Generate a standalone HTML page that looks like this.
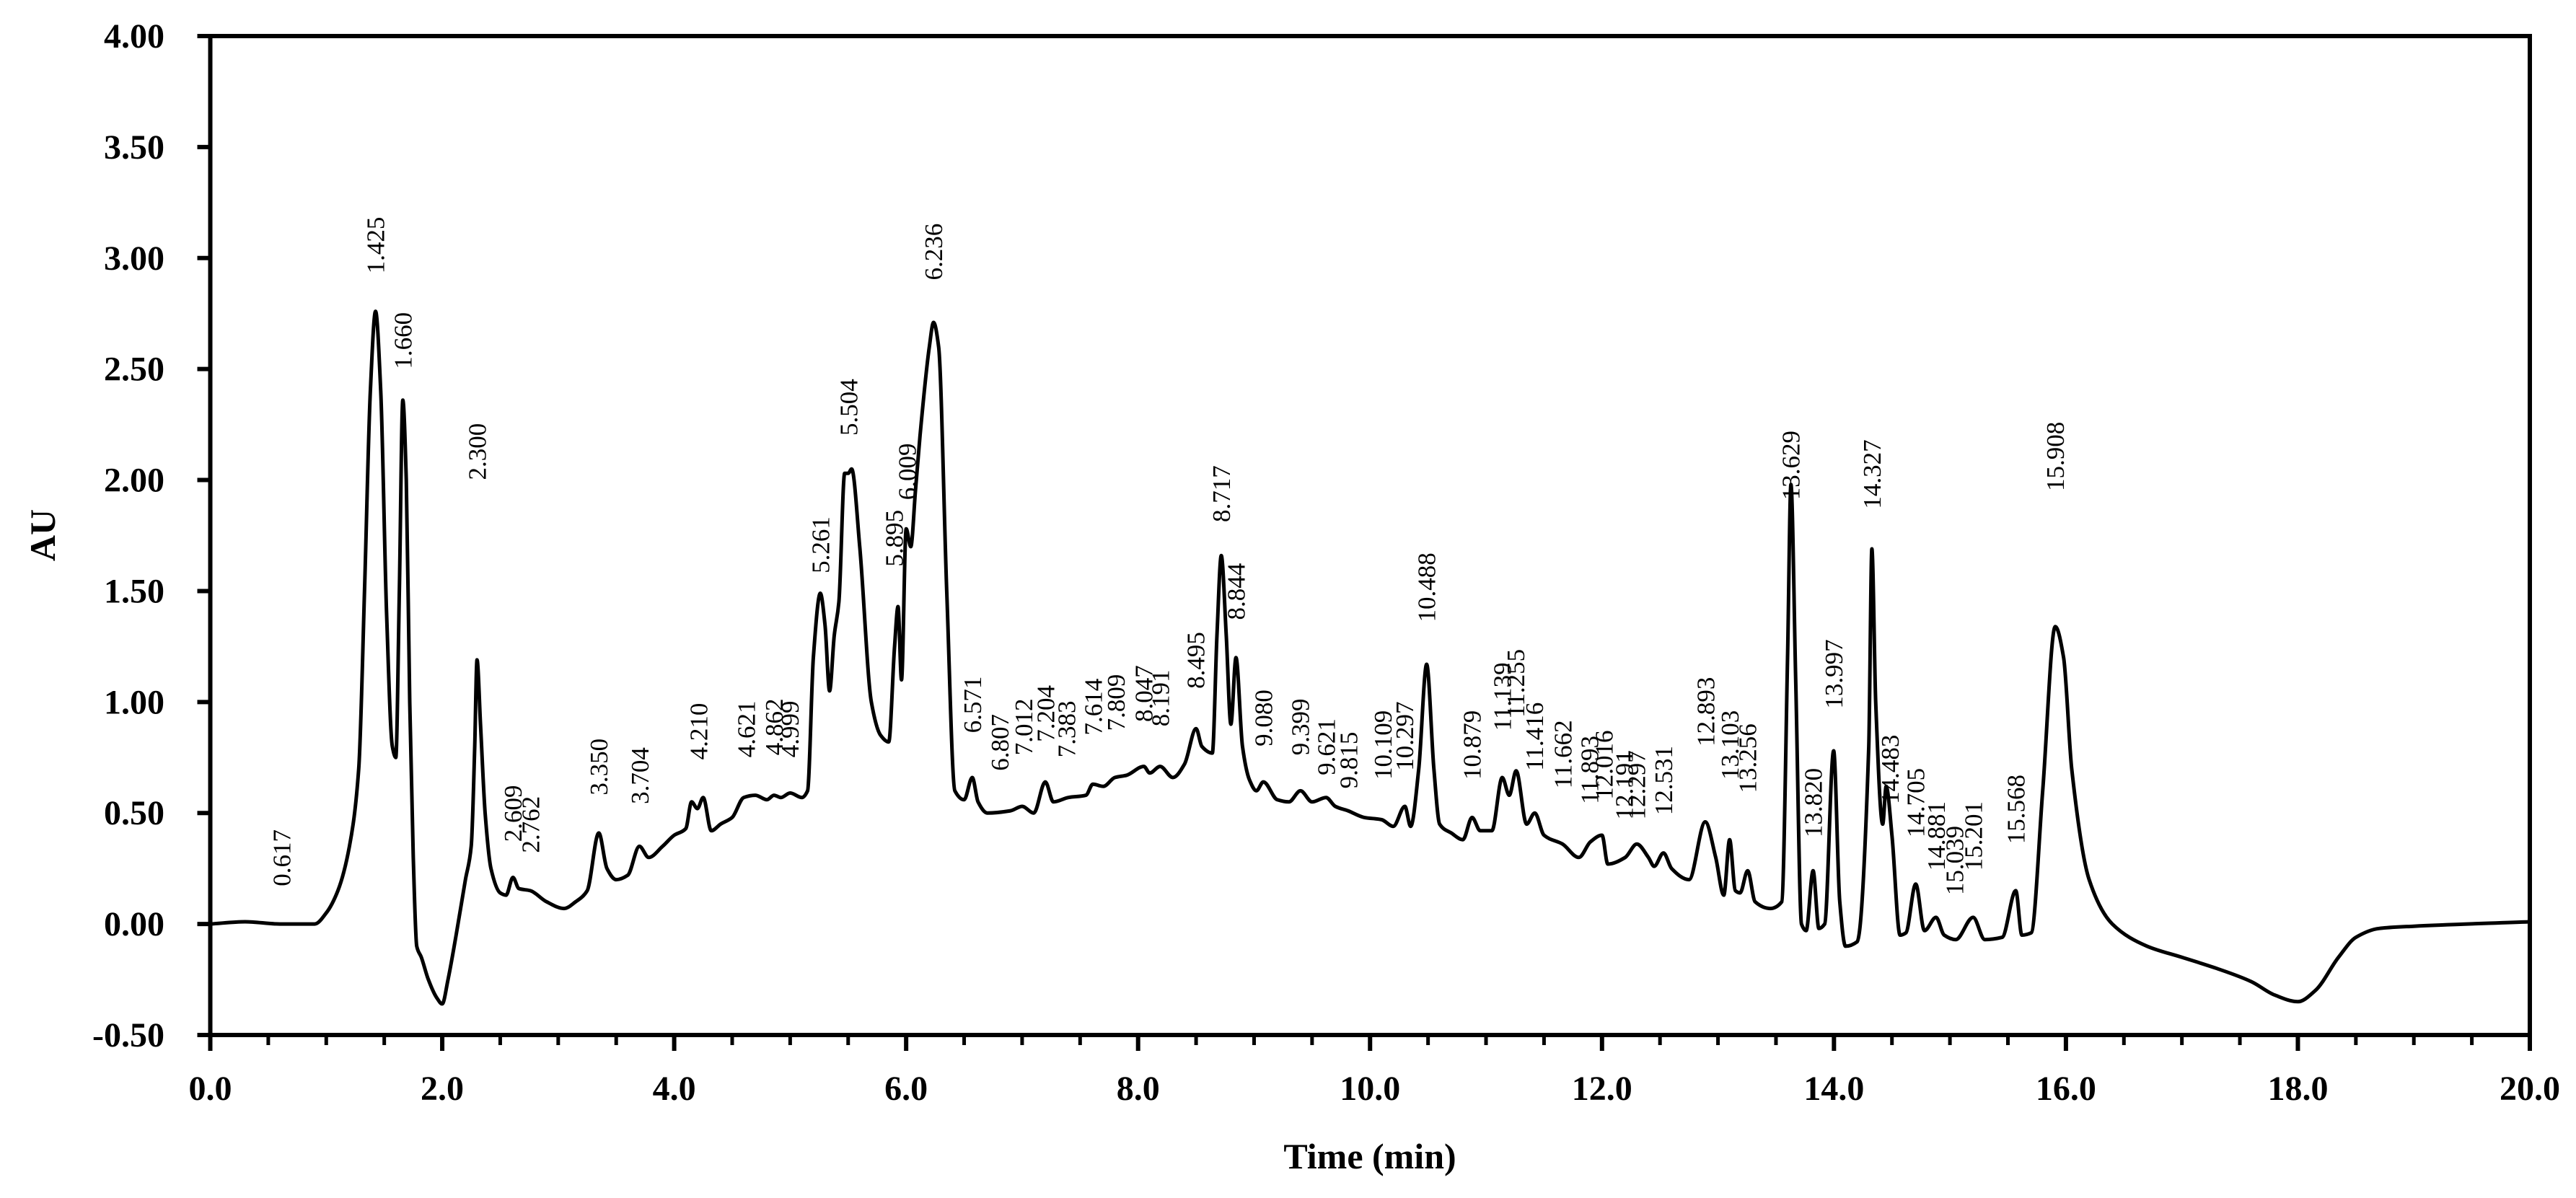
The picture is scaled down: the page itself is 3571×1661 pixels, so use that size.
<!DOCTYPE html>
<html><head><meta charset="utf-8"><style>
html,body{margin:0;padding:0;background:#fff;}
svg{display:block;}
</style></head><body>
<svg id="chart" width="3571" height="1661" viewBox="0 0 3571 1661" xmlns="http://www.w3.org/2000/svg">
<g id="axes"></g>
<g id="trace"></g>
<g id="labels"></g>
<text x="1899" y="1620" text-anchor="middle" font-family="Liberation Serif, serif" font-weight="bold" font-size="50">Time (min)</text>
<text transform="translate(76,742) rotate(-90)" text-anchor="middle" font-family="Liberation Serif, serif" font-weight="bold" font-size="50">AU</text>
</svg>
<script>
const xTickLabels = ["0.0","2.0","4.0","6.0","8.0","10.0","12.0","14.0","16.0","18.0","20.0"];
const yTickLabels = ["-0.50","0.00","0.50","1.00","1.50","2.00","2.50","3.00","3.50","4.00"];
const traceTimes = [0,0.3,0.6,0.9,1.0,1.1,1.2,1.28,1.33,1.38,1.425,1.47,1.52,1.57,1.6,1.63,1.66,1.69,1.72,1.75,1.78,1.82,1.88,1.95,2.0,2.05,2.12,2.2,2.25,2.28,2.3,2.33,2.37,2.42,2.5,2.55,2.61,2.66,2.76,2.9,3.05,3.15,3.25,3.35,3.42,3.5,3.6,3.7,3.78,3.9,4.0,4.1,4.15,4.2,4.25,4.32,4.4,4.5,4.6,4.7,4.8,4.86,4.92,5.0,5.1,5.15,5.2,5.26,5.3,5.34,5.38,5.42,5.47,5.5,5.53,5.6,5.7,5.78,5.85,5.9,5.93,5.96,6.0,6.04,6.08,6.12,6.2,6.236,6.28,6.35,6.42,6.5,6.57,6.62,6.7,6.9,7.0,7.1,7.2,7.27,7.4,7.55,7.61,7.7,7.8,7.9,8.05,8.1,8.19,8.3,8.4,8.5,8.55,8.64,8.68,8.717,8.76,8.8,8.844,8.9,8.96,9.02,9.08,9.2,9.3,9.4,9.5,9.62,9.7,9.81,9.95,10.1,10.2,10.3,10.35,10.42,10.488,10.55,10.6,10.7,10.8,10.88,10.95,11.05,11.14,11.2,11.26,11.35,11.42,11.5,11.66,11.8,11.9,12.0,12.05,12.2,12.3,12.4,12.45,12.53,12.6,12.75,12.89,12.98,13.05,13.1,13.15,13.19,13.256,13.32,13.45,13.55,13.6,13.629,13.67,13.72,13.76,13.82,13.87,13.92,13.997,14.05,14.1,14.2,14.3,14.327,14.36,14.42,14.45,14.5,14.57,14.62,14.705,14.78,14.88,14.95,15.05,15.2,15.3,15.45,15.568,15.62,15.7,15.8,15.908,15.98,16.05,16.2,16.4,16.7,17.0,17.3,17.6,17.8,18.0,18.15,18.35,18.5,18.7,19.0,20.0];
const traceValues = [0,0.01,0,0,0.05,0.15,0.35,0.7,1.5,2.4,2.76,2.4,1.4,0.8,0.75,1.5,2.36,2.0,1.0,0.3,-0.1,-0.15,-0.25,-0.33,-0.36,-0.25,-0.05,0.2,0.35,0.8,1.19,0.9,0.5,0.25,0.14,0.13,0.21,0.16,0.15,0.1,0.07,0.1,0.15,0.41,0.25,0.2,0.22,0.35,0.3,0.35,0.4,0.43,0.55,0.52,0.57,0.42,0.45,0.48,0.57,0.58,0.56,0.58,0.57,0.59,0.57,0.6,1.2,1.49,1.35,1.05,1.3,1.45,2.03,2.03,2.05,1.7,1.0,0.85,0.82,1.25,1.43,1.1,1.78,1.7,1.95,2.2,2.6,2.71,2.6,1.5,0.6,0.56,0.66,0.55,0.5,0.51,0.53,0.5,0.64,0.55,0.57,0.58,0.63,0.62,0.66,0.67,0.71,0.68,0.71,0.66,0.72,0.88,0.8,0.77,1.3,1.66,1.3,0.9,1.2,0.8,0.65,0.6,0.64,0.56,0.55,0.6,0.55,0.57,0.53,0.51,0.48,0.47,0.44,0.53,0.44,0.7,1.17,0.7,0.45,0.41,0.38,0.48,0.42,0.42,0.66,0.58,0.69,0.45,0.5,0.4,0.36,0.3,0.37,0.4,0.27,0.3,0.36,0.3,0.26,0.32,0.25,0.2,0.46,0.3,0.13,0.38,0.15,0.14,0.24,0.1,0.07,0.1,1.2,1.98,1.1,0,-0.03,0.24,-0.02,0,0.78,0.1,-0.1,-0.08,0.8,1.69,1.0,0.45,0.62,0.4,-0.05,-0.04,0.18,-0.03,0.03,-0.05,-0.07,0.03,-0.07,-0.06,0.15,-0.05,-0.04,0.6,1.34,1.2,0.7,0.2,0,-0.1,-0.15,-0.2,-0.26,-0.32,-0.35,-0.3,-0.15,-0.06,-0.02,-0.01,0.01];
const peakLabels = ["0.617","1.425","1.660","2.300","2.609","2.762","3.350","3.704","4.210","4.621","4.862","4.999","5.261","5.504","5.895","6.009","6.236","6.571","6.807","7.012","7.204","7.383","7.614","7.809","8.047","8.191","8.495","8.717","8.844","9.080","9.399","9.621","9.815","10.109","10.297","10.488","10.879","11.139","11.255","11.416","11.662","11.893","12.016","12.191","12.297","12.531","12.893","13.103","13.256","13.629","13.820","13.997","14.327","14.483","14.705","14.881","15.039","15.201","15.568","15.908"];
const peakLabelHeights = [0.17,2.93,2.5,2.0,0.37,0.32,0.58,0.54,0.74,0.75,0.76,0.75,1.58,2.2,1.61,1.91,2.9,0.86,0.69,0.76,0.82,0.75,0.85,0.87,0.91,0.89,1.06,1.81,1.37,0.8,0.76,0.67,0.61,0.65,0.69,1.36,0.65,0.87,0.93,0.69,0.61,0.54,0.56,0.47,0.47,0.49,0.8,0.65,0.59,1.91,0.39,0.97,1.87,0.54,0.39,0.24,0.13,0.24,0.36,1.95];

const NS='http://www.w3.org/2000/svg';
const L=291.5,R=3507,T=50,B=1435;
const xS=t=>L+(t-0)/(20-0)*(R-L);
const yS=v=>B-(v+0.5)/(4.5)*(B-T);
function mk(tag,attrs,parent){const e=document.createElementNS(NS,tag);for(const k in attrs)e.setAttribute(k,attrs[k]);parent.appendChild(e);return e;}
const axes=document.getElementById('axes');
let e=mk('rect',{x:L,y:T,width:R-L,height:B-T,fill:'none',stroke:'#000','stroke-width':6},axes);


for(let i=0;i<=40;i++){const t=i*0.5;const major=i%4===0;
 e=mk('line',{x1:xS(t),x2:xS(t),y1:B,y2:B+(major?22:14),stroke:'#000','stroke-width':major?6:5},axes);
 
 }
xTickLabels.forEach(s=>{const t=parseFloat(s);
 e=mk('text',{x:xS(t),y:1525,'text-anchor':'middle','font-family':'Liberation Serif, serif','font-weight':'bold','font-size':48},axes);
 e.textContent=s;
 
 });
yTickLabels.forEach(s=>{const v=parseFloat(s);
 e=mk('line',{x1:L-18,x2:L,y1:yS(v),y2:yS(v),stroke:'#000','stroke-width':6},axes);
 
 
 e=mk('text',{x:228,y:yS(v)+16,'text-anchor':'end','font-family':'Liberation Serif, serif','font-weight':'bold','font-size':48},axes);
 e.textContent=s;
 
 });
// monotone cubic path
const px=traceTimes.map(xS), py=traceValues.map(yS), n=px.length;
const dk=[],m=[];
for(let i=0;i<n-1;i++)dk.push((py[i+1]-py[i])/(px[i+1]-px[i]));
m[0]=dk[0];m[n-1]=dk[n-2];
for(let i=1;i<n-1;i++){m[i]=(dk[i-1]*dk[i]<=0)?0:3*(dk[i-1]+dk[i])/( (2*dk[i]+dk[i-1])/dk[i-1]*0+ (dk[i-1]+dk[i]) )*0.5;
 const w1=2*(px[i+1]-px[i])+(px[i]-px[i-1]),w2=(px[i+1]-px[i])+2*(px[i]-px[i-1]);
 if(dk[i-1]*dk[i]>0)m[i]=(w1+w2)/(w1/dk[i-1]+w2/dk[i]);}
let d='M'+px[0].toFixed(1)+','+py[0].toFixed(1);
for(let i=0;i<n-1;i++){const h=(px[i+1]-px[i])/3;
 d+='C'+(px[i]+h).toFixed(1)+','+(py[i]+m[i]*h).toFixed(1)+' '+(px[i+1]-h).toFixed(1)+','+(py[i+1]-m[i+1]*h).toFixed(1)+' '+px[i+1].toFixed(1)+','+py[i+1].toFixed(1);}
const tr=document.getElementById('trace');
e=mk('path',{d:d,fill:'none',stroke:'#000','stroke-width':5,'stroke-linejoin':'round'},tr);


const lb=document.getElementById('labels');
peakLabels.forEach((s,i)=>{const x=xS(parseFloat(s)),y=yS(peakLabelHeights[i]);
 e=mk('text',{transform:'translate('+(x+12)+','+y+') rotate(-90)','font-family':'Liberation Serif, serif','font-size':35},lb);
 e.textContent=s;
 
 });
</script>
</body></html>
